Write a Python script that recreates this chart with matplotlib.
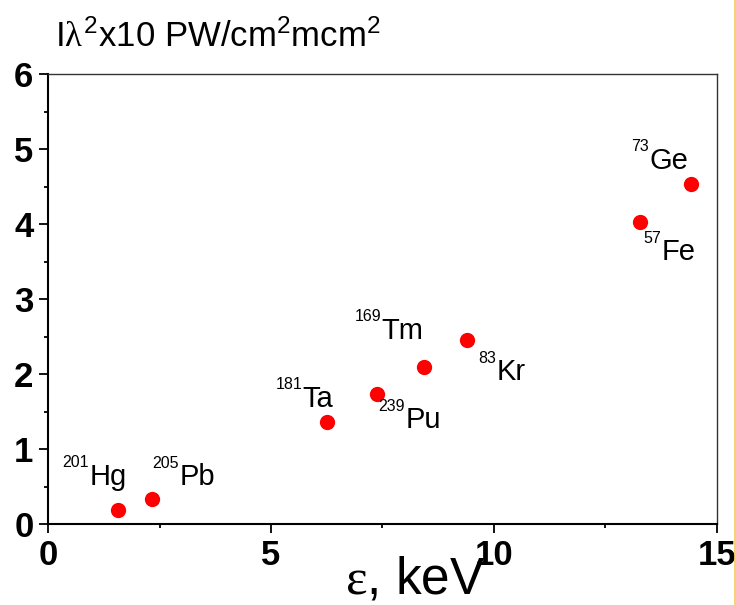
import matplotlib
matplotlib.use("Agg")
import matplotlib.pyplot as plt
from matplotlib.lines import Line2D

plt.rcParams['font.family'] = ['Liberation Sans', 'DejaVu Sans']
plt.rcParams['mathtext.fontset'] = 'custom'
plt.rcParams['mathtext.rm'] = 'Liberation Sans'
plt.rcParams['mathtext.it'] = 'Liberation Serif'
plt.rcParams['mathtext.bf'] = 'Liberation Sans:bold'
plt.rcParams['mathtext.default'] = 'rm'

# data
mass_numbers = ['201', '205', '181', '239', '169', '83', '57', '73']
elements = ['Hg', 'Pb', 'Ta', 'Pu', 'Tm', 'Kr', 'Fe', 'Ge']
energy_keV = [1.56, 2.33, 6.25, 7.37, 8.42, 9.40, 13.28, 14.41]
intensity = [0.19, 0.33, 1.36, 1.74, 2.10, 2.46, 4.03, 4.53]
# label offsets (points) of the element symbol start relative to each marker
label_dx = [-20, 20, -17.3, 20.9, -30, 21.4, 15.4, -29.8]
label_dy = [18, 10, 11, -25, 20, -29.5, -27.6, 11.3]

x_ticks = [0, 5, 10, 15]
y_ticks = [0, 1, 2, 3, 4, 5, 6]

fig = plt.figure(figsize=(7.36, 6.05), dpi=100)
ax = fig.add_axes([48/736, 1-524/605, (717-48)/736, (524-74)/605])

ax.plot(energy_keV, intensity, 'o', color='#ff0000', markersize=11, markeredgewidth=0)

for num, el, x, y, dx, dy in zip(mass_numbers, elements, energy_keV, intensity,
                                 label_dx, label_dy):
    ax.annotate(el, (x, y), xytext=(dx, dy), textcoords='offset points',
                ha='left', va='baseline', fontsize=21, color='black')
    ax.annotate(num, (x, y), xytext=(dx - 0.5, dy + 12.5), textcoords='offset points',
                ha='right', va='baseline', fontsize=11.5, color='black')

ax.set_xlim(0, 15)
ax.set_ylim(0, 6)
ax.set_xticks(x_ticks)
ax.set_yticks(y_ticks)
ax.set_xticks([2.5, 7.5, 12.5], minor=True)
ax.set_yticks([0.5, 1.5, 2.5, 3.5, 4.5, 5.5], minor=True)
ax.tick_params(which='major', direction='out', length=6.5, width=1.3,
               labelsize=25, pad=4, top=False, right=False)
ax.tick_params(which='minor', direction='out', length=3, width=1.3,
               top=False, right=False)
for lab in ax.get_xticklabels() + ax.get_yticklabels():
    lab.set_fontweight('bold')

ax.spines['left'].set_linewidth(1.5)
ax.spines['bottom'].set_linewidth(1.5)
ax.spines['top'].set_linewidth(1.0)
ax.spines['right'].set_linewidth(1.0)
ax.spines['right'].set_color('#333333')
ax.spines['top'].set_color('#333333')

fig.text(55/736, 1-47/605, r'I$\mathit{\lambda}^2$x10 PW/cm$^2$mcm$^2$',
         fontsize=25, ha='left', va='baseline')
fig.text(415/736, 1-594/605, r'$\mathit{\varepsilon}$, keV',
         fontsize=37, ha='center', va='baseline')

fig.add_artist(Line2D([0.9985, 0.9985], [0, 1], transform=fig.transFigure,
                      color='#f5c85a', linewidth=1.2))

fig.savefig('out.png', dpi=100)
